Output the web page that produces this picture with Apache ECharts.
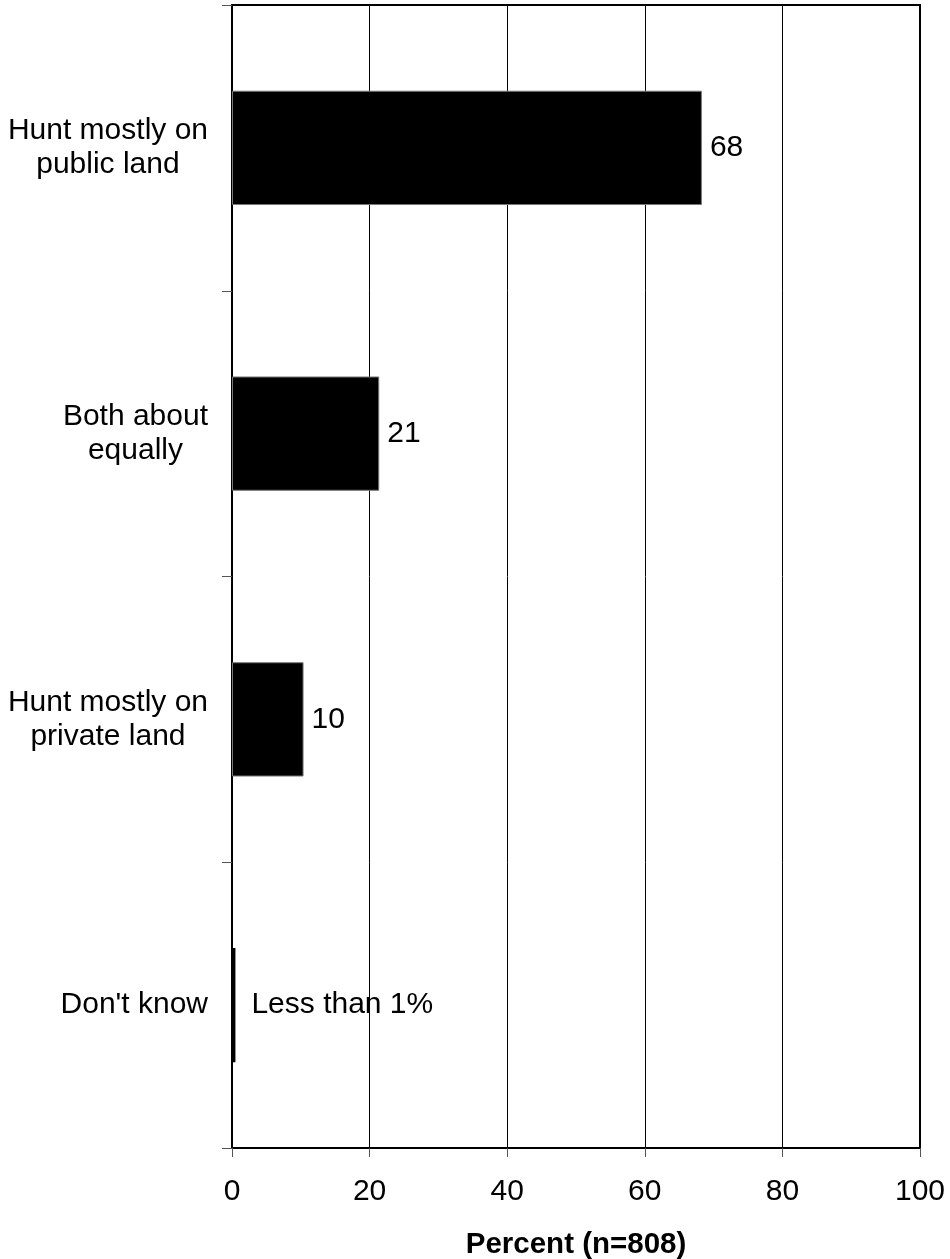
<!DOCTYPE html>
<html>
<head>
<meta charset="utf-8">
<script src="https://cdn.jsdelivr.net/npm/echarts@6/dist/echarts.min.js"></script>
<style>
html,body{margin:0;padding:0;background:#fff;}
#chart{width:950px;height:1259px;}
</style>
</head>
<body>
<div id="chart"></div>
<script>
var categories = ["Hunt mostly on\npublic land", "Both about\nequally", "Hunt mostly on\nprivate land", "Don't know"];
var values = [68.3, 21.4, 10.4, 0.5];
var valueLabels = ["68", "21", "10", "Less than 1%"];
var xTicks = [0, 20, 40, 60, 80, 100];
var axisTitle = "Percent (n=808)";

var FONT = "'Liberation Sans', Arial, sans-serif";
var FS = 30;
var chart = echarts.init(document.getElementById('chart'), null, {renderer: 'canvas'});

var seriesData = values.map(function (v, i) {
  return {
    value: v,
    label: {
      formatter: valueLabels[i],
      distance: i === 3 ? 16 : 8
    },
    itemStyle: i === 3 ? {borderWidth: 0} : {}
  };
});

chart.setOption({
  animation: false,
  backgroundColor: '#ffffff',
  grid: {
    left: 232, right: 30, top: 5, bottom: 111,
    containLabel: false, outerBoundsMode: 'none',
    show: true, borderColor: '#000', borderWidth: 2, backgroundColor: 'transparent'
  },
  xAxis: {
    type: 'value',
    min: xTicks[0], max: xTicks[xTicks.length - 1], interval: 20,
    axisLine: {show: true, lineStyle: {color: '#000', width: 2}},
    axisTick: {show: true, length: 9, lineStyle: {color: '#555', width: 1}},
    splitLine: {show: true, lineStyle: {color: '#000', width: 1}},
    axisLabel: {color: '#000', fontSize: FS, fontFamily: FONT, margin: 29},
    name: axisTitle,
    nameLocation: 'middle',
    nameGap: 82,
    nameTextStyle: {color: '#000', fontSize: 29.5, fontWeight: 'bold', fontFamily: FONT}
  },
  yAxis: {
    type: 'category',
    data: categories,
    inverse: true,
    axisLine: {show: true, lineStyle: {color: '#000', width: 2}},
    axisTick: {show: true, length: 10, lineStyle: {color: '#555', width: 1}},
    axisLabel: {
      color: '#000', fontSize: FS, fontFamily: FONT, margin: 24, align: 'right',
      formatter: function (v) {
        return v.split('\n').map(function (l) { return '{c|' + l + '}'; }).join('\n');
      },
      rich: {c: {align: 'center', fontSize: FS, fontFamily: FONT, color: '#000', lineHeight: 34}}
    }
  },
  series: [{
    type: 'bar',
    data: seriesData,
    barWidth: '40%',
    itemStyle: {color: '#000', borderColor: '#777', borderWidth: 1},
    label: {show: true, position: 'right', color: '#000', fontSize: FS, fontFamily: FONT}
  }]
});
</script>
</body>
</html>
